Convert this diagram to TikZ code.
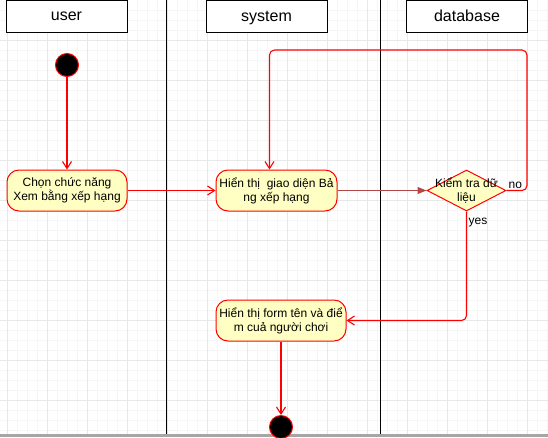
\documentclass[tikz,border=0pt]{standalone}
\usepackage{fontspec}
\setmainfont{Liberation Sans}
\usetikzlibrary{arrows.meta,shapes.geometric,calc}
\definecolor{actfill}{RGB}{255,255,196}
\definecolor{darkflow}{RGB}{176,72,72}
\tikzset{>={Straight Barb[length=7pt,width=9pt]}}
\tikzstyle{lanehead}=[rectangle, draw=black, fill=white, line width=1pt,
	 minimum width=121pt, minimum height=32pt, text depth=1pt,
	 font=\fontsize{16}{18}\selectfont
    ]
\tikzstyle{action}=[rectangle, rounded corners=12pt, draw=red, fill=actfill,
	 line width=1pt, minimum height=41pt, inner sep=0pt, align=center,
	 font=\fontsize{12}{14}\selectfont
    ]
\tikzstyle{decision}=[diamond, draw=red, fill=actfill, line width=1pt,
	 minimum width=79pt, minimum height=41pt, inner sep=0pt
    ]
\tikzstyle{startend}=[circle, draw=red, fill=black, line width=1pt, minimum size=23pt, inner sep=0pt]
\tikzstyle{flow}=[color=red, line width=1.1pt, ->]
\tikzstyle{lbl}=[font=\fontsize{12}{14}\selectfont, inner sep=1pt, align=center]
\newcommand{\flow}[2]{\draw[flow] (#1) -- (#2)}

\begin{document}
\begin{tikzpicture}[x=1pt,y=-1pt]
\useasboundingbox (0,0) rectangle (548,437);

% background grid
\foreach \x in {7,17,...,547} \draw[gray!7] (\x,0) -- (\x,437);
\foreach \y in {10,20,...,430} \draw[gray!7] (0,\y) -- (548,\y);
\foreach \x in {7,47,...,547} \draw[gray!18] (\x,0) -- (\x,437);
\foreach \y in {40,80,...,400} \draw[gray!18] (0,\y) -- (548,\y);
\fill[gray!70] (0,434) rectangle (548,437);

% swimlanes
\draw[black, line width=1pt] (166,0) -- (166,434);
\draw[black, line width=1pt] (380,0) -- (380,434);
\node[lanehead] (H1) at (66.5,16.5) {user};
\node[lanehead] (H2) at (266.5,16.5) {system};
\node[lanehead] (H3) at (467,16.5) {database};

\node[startend] (S) at (67,65) {};
\node[action, minimum width=120pt] (A1) at (67,190.5) {Chọn chức năng\\Xem bằng xếp hạng};
\node[action, minimum width=121pt] (A2) at (276.5,190.5) {Hiển thị\ \ giao diện Bả\\ng xếp hạng};
\node[decision] (D1) at (466.5,190.5) {};
\node[lbl] (D1t) at (D1.center) {Kiểm tra dữ\\liệu};
\node[action, minimum width=130pt] (A3) at (281,320.5) {Hiển thị form tên và điể\\m cuả người chơi};
\node[startend] (E) at (281,427) {};

\coordinate (loopR) at (527,50);
\coordinate (loopL) at (269.5,50);

\flow{S.south}{A1.north};
\flow{A1}{A2};
\draw[darkflow, line width=1pt, -{Triangle[length=9pt,width=7pt]}] (A2) -- (D1);
\draw[flow, rounded corners=5pt] (D1.east) -| (loopR) -- (loopL) -- (A2.north -| loopL);
\draw[flow, rounded corners=5pt] (D1.south) |- (A3.east);
\flow{A3.south}{E.north};

\node[lbl, anchor=south west] (no) at ($(D1.east)+(1,-1)$) {no};
\node[lbl, anchor=north west] (yes) at ($(D1.south)+(1,5)$) {yes};

\end{tikzpicture}
\end{document}
